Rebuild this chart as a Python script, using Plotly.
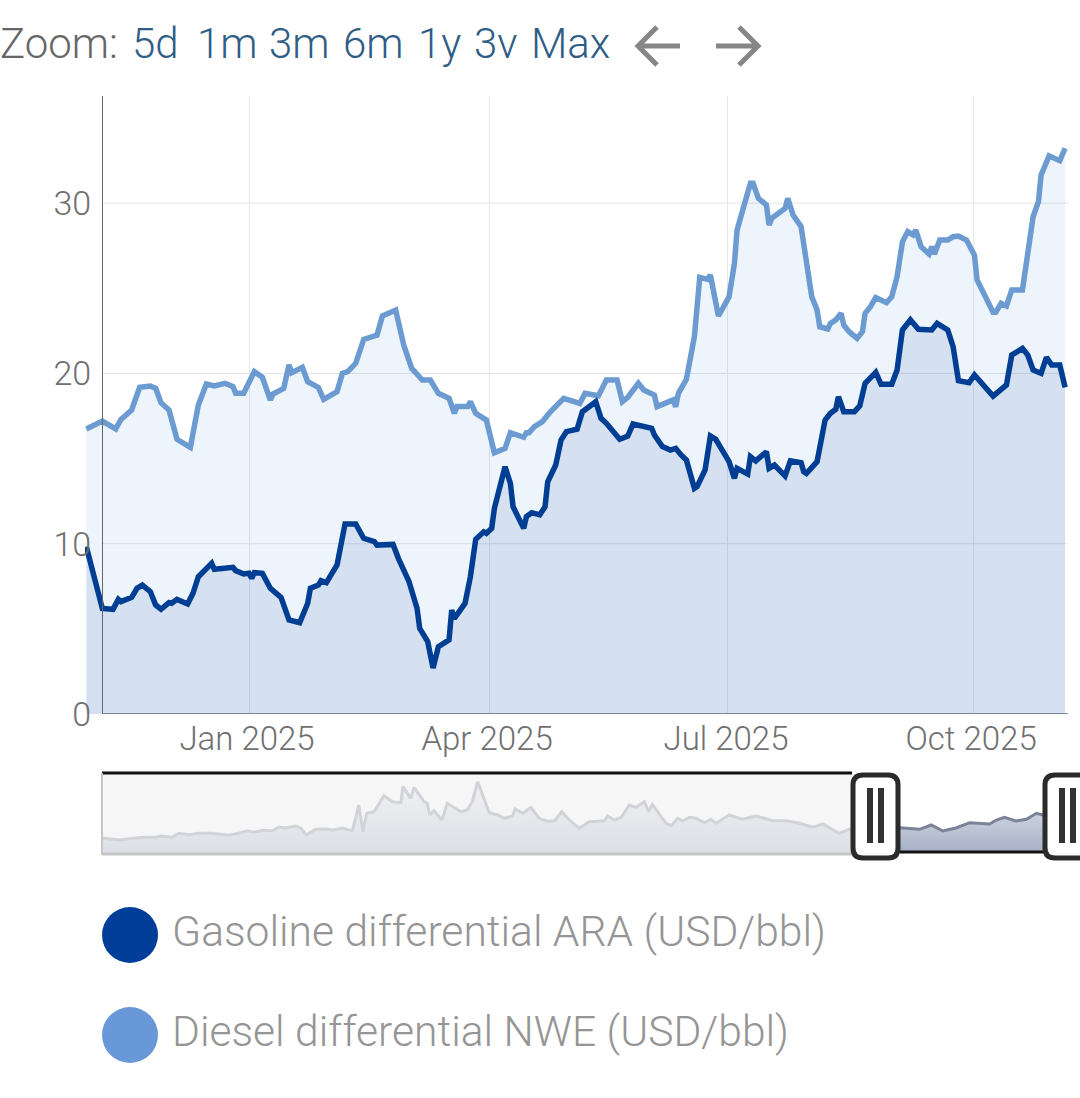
import plotly.graph_objects as go

gasoline_dates = [
    "2024-11-01", "2024-11-07", "2024-11-11", "2024-11-13", "2024-11-14", "2024-11-18",
    "2024-11-20", "2024-11-22", "2024-11-25", "2024-11-27", "2024-11-29", "2024-12-02",
    "2024-12-03", "2024-12-05", "2024-12-09", "2024-12-11", "2024-12-13", "2024-12-18",
    "2024-12-19", "2024-12-26", "2024-12-27", "2024-12-30", "2025-01-01", "2025-01-02",
    "2025-01-03", "2025-01-06", "2025-01-09", "2025-01-13", "2025-01-16", "2025-01-20",
    "2025-01-23", "2025-01-24", "2025-01-27", "2025-01-28", "2025-01-30", "2025-02-03",
    "2025-02-06", "2025-02-10", "2025-02-13", "2025-02-17", "2025-02-18", "2025-02-24",
    "2025-02-26", "2025-02-28", "2025-03-02", "2025-03-05", "2025-03-06", "2025-03-09",
    "2025-03-11", "2025-03-13", "2025-03-17", "2025-03-18", "2025-03-19", "2025-03-23",
    "2025-03-25", "2025-03-27", "2025-03-30", "2025-03-31", "2025-04-02", "2025-04-03",
    "2025-04-07", "2025-04-09", "2025-04-10", "2025-04-14", "2025-04-15", "2025-04-17",
    "2025-04-20", "2025-04-22", "2025-04-23", "2025-04-26", "2025-04-28", "2025-04-30",
    "2025-05-04", "2025-05-06", "2025-05-11", "2025-05-13", "2025-05-15", "2025-05-20",
    "2025-05-23", "2025-05-25", "2025-06-01", "2025-06-02", "2025-06-05", "2025-06-08",
    "2025-06-10", "2025-06-12", "2025-06-14", "2025-06-17", "2025-06-18", "2025-06-21",
    "2025-06-23", "2025-06-25", "2025-06-30", "2025-07-02", "2025-07-03", "2025-07-07",
    "2025-07-08", "2025-07-10", "2025-07-14", "2025-07-15", "2025-07-17", "2025-07-21",
    "2025-07-23", "2025-07-27", "2025-07-28", "2025-07-29", "2025-08-02", "2025-08-05",
    "2025-08-07", "2025-08-09", "2025-08-10", "2025-08-12", "2025-08-16", "2025-08-18",
    "2025-08-20", "2025-08-24", "2025-08-26", "2025-08-30", "2025-09-01", "2025-09-03",
    "2025-09-06", "2025-09-09", "2025-09-14", "2025-09-16", "2025-09-20", "2025-09-22",
    "2025-09-24", "2025-09-28", "2025-09-30", "2025-10-07", "2025-10-12", "2025-10-14",
    "2025-10-18", "2025-10-20", "2025-10-22", "2025-10-25", "2025-10-27", "2025-10-29",
    "2025-11-01", "2025-11-03",
]
gasoline_values = [
    9.83, 6.2, 6.15, 6.73, 6.6, 6.85,
    7.38, 7.57, 7.18, 6.4, 6.15, 6.54,
    6.5, 6.73, 6.46, 7.09, 8.06, 8.85,
    8.5, 8.61, 8.42, 8.22, 8.26, 7.97,
    8.3, 8.26, 7.38, 6.85, 5.52, 5.36,
    6.5, 7.38, 7.57, 7.83, 7.71, 8.75,
    11.16, 11.16, 10.32, 10.12, 9.92, 9.96,
    9.14, 8.42, 7.77, 6.21, 5.03, 4.25,
    2.7, 3.95, 4.35, 6.1, 5.62, 6.5,
    8.06, 10.26, 10.7, 10.61, 10.9, 12.08,
    14.52, 13.55, 12.17, 10.9, 11.59, 11.82,
    11.69, 12.17, 13.64, 14.62, 16.09, 16.58,
    16.72, 17.75, 18.34, 17.36, 17.07, 16.13,
    16.32, 17.03, 16.78, 16.38, 15.7, 15.5,
    15.6, 15.21, 14.91, 13.25, 13.35, 14.33,
    16.32, 16.13, 14.82, 13.84, 14.43, 14.09,
    15.11, 14.86, 15.4, 14.43, 14.62, 13.98,
    14.86, 14.76, 14.23, 14.13, 14.82, 17.26,
    17.66, 17.89, 18.63, 17.75, 17.75, 18.09,
    19.42, 20.06, 19.36, 19.36, 20.2, 22.55,
    23.14, 22.59, 22.55, 22.94, 22.55, 21.57,
    19.57, 19.45, 19.91, 18.67, 19.32, 21.08,
    21.47, 21.08, 20.2, 20.0, 20.94, 20.49,
    20.49, 19.18,
]

diesel_dates = [
    "2024-11-01", "2024-11-07", "2024-11-12", "2024-11-14", "2024-11-18", "2024-11-21",
    "2024-11-25", "2024-11-27", "2024-11-29", "2024-12-02", "2024-12-05", "2024-12-10",
    "2024-12-13", "2024-12-16", "2024-12-19", "2024-12-23", "2024-12-26", "2024-12-27",
    "2024-12-30", "2025-01-03", "2025-01-06", "2025-01-09", "2025-01-10", "2025-01-14",
    "2025-01-16", "2025-01-17", "2025-01-21", "2025-01-23", "2025-01-27", "2025-01-29",
    "2025-02-03", "2025-02-05", "2025-02-07", "2025-02-10", "2025-02-13", "2025-02-18",
    "2025-02-20", "2025-02-25", "2025-02-28", "2025-03-03", "2025-03-07", "2025-03-10",
    "2025-03-13", "2025-03-17", "2025-03-19", "2025-03-20", "2025-03-24", "2025-03-25",
    "2025-03-27", "2025-03-31", "2025-04-03", "2025-04-07", "2025-04-09", "2025-04-14",
    "2025-04-15", "2025-04-16", "2025-04-18", "2025-04-21", "2025-04-24", "2025-04-29",
    "2025-05-05", "2025-05-07", "2025-05-12", "2025-05-15", "2025-05-19", "2025-05-21",
    "2025-05-23", "2025-05-27", "2025-05-29", "2025-06-02", "2025-06-03", "2025-06-09",
    "2025-06-10", "2025-06-11", "2025-06-14", "2025-06-17", "2025-06-19", "2025-06-22",
    "2025-06-23", "2025-06-26", "2025-06-30", "2025-07-02", "2025-07-03", "2025-07-05",
    "2025-07-08", "2025-07-09", "2025-07-11", "2025-07-14", "2025-07-15", "2025-07-16",
    "2025-07-21", "2025-07-22", "2025-07-24", "2025-07-27", "2025-07-29", "2025-07-31",
    "2025-08-02", "2025-08-03", "2025-08-06", "2025-08-07", "2025-08-09", "2025-08-11",
    "2025-08-12", "2025-08-14", "2025-08-17", "2025-08-19", "2025-08-20", "2025-08-22",
    "2025-08-24", "2025-08-28", "2025-08-30", "2025-09-01", "2025-09-03", "2025-09-05",
    "2025-09-07", "2025-09-08", "2025-09-10", "2025-09-13", "2025-09-14", "2025-09-15",
    "2025-09-17", "2025-09-20", "2025-09-22", "2025-09-24", "2025-09-27", "2025-09-30",
    "2025-10-01", "2025-10-04", "2025-10-07", "2025-10-08", "2025-10-10", "2025-10-12",
    "2025-10-14", "2025-10-18", "2025-10-19", "2025-10-22", "2025-10-24", "2025-10-25",
    "2025-10-28", "2025-11-01", "2025-11-03",
]
diesel_values = [
    16.74, 17.2, 16.74, 17.3, 17.85, 19.18,
    19.26, 19.12, 18.28, 17.85, 16.13, 15.66,
    18.14, 19.38, 19.26, 19.42, 19.22, 18.83,
    18.83, 20.1, 19.77, 18.44, 18.79, 19.12,
    20.5, 20.04, 20.36, 19.51, 19.18, 18.48,
    18.93, 20.0, 20.1, 20.59, 22.0, 22.25,
    23.37, 23.72, 21.67, 20.3, 19.61, 19.61,
    18.83, 18.54, 17.66, 18.05, 18.05, 18.34,
    17.66, 17.26, 15.34, 15.6, 16.52, 16.25,
    16.52, 16.52, 16.87, 17.17, 17.75, 18.54,
    18.24, 18.83, 18.69, 19.61, 19.61, 18.34,
    18.6, 19.42, 19.03, 18.73, 18.05, 18.44,
    18.05, 18.83, 19.65, 22.16, 25.64, 25.52,
    25.78, 23.37, 24.5, 26.46, 28.42, 29.5,
    31.16, 31.16, 30.28, 29.89, 28.71, 29.11,
    29.69, 30.28, 29.3, 28.62, 26.46, 24.5,
    23.72, 22.74, 22.61, 22.94, 23.14, 23.53,
    22.84, 22.45, 22.06, 22.45, 23.53, 23.92,
    24.45, 24.15, 24.5, 25.68, 27.73, 28.32,
    28.13, 28.42, 27.44, 27.01, 27.44, 27.01,
    27.83, 27.83, 28.03, 28.07, 27.83, 26.95,
    25.48, 24.6, 23.59, 23.59, 24.11, 23.96,
    24.9, 24.9, 26.07, 29.2, 30.08, 31.65,
    32.77, 32.49, 33.22,
]

nav_dates = [
    "2020-10-22", "2020-11-25", "2020-12-18", "2021-01-09", "2021-01-31", "2021-02-10",
    "2021-03-03", "2021-03-16", "2021-04-04", "2021-04-23", "2021-05-18", "2021-06-19",
    "2021-07-08", "2021-07-24", "2021-08-06", "2021-08-22", "2021-09-10", "2021-09-23",
    "2021-10-05", "2021-10-24", "2021-11-03", "2021-11-13", "2021-12-01", "2021-12-23",
    "2022-01-02", "2022-01-21", "2022-02-09", "2022-02-21", "2022-03-01", "2022-03-08",
    "2022-03-22", "2022-04-10", "2022-04-26", "2022-05-12", "2022-05-16", "2022-05-31",
    "2022-06-06", "2022-06-25", "2022-07-01", "2022-07-06", "2022-07-14", "2022-07-29",
    "2022-08-08", "2022-09-03", "2022-09-15", "2022-09-25", "2022-10-05", "2022-10-27",
    "2022-11-12", "2022-11-24", "2022-12-10", "2022-12-15", "2022-12-30", "2023-01-14",
    "2023-01-30", "2023-02-12", "2023-02-28", "2023-03-14", "2023-03-25", "2023-04-16",
    "2023-05-05", "2023-06-03", "2023-06-09", "2023-06-22", "2023-07-05", "2023-07-20",
    "2023-08-02", "2023-08-18", "2023-08-26", "2023-09-02", "2023-09-28", "2023-10-08",
    "2023-10-20", "2023-10-30", "2023-11-11", "2023-11-24", "2023-12-10", "2023-12-22",
    "2024-01-01", "2024-01-26", "2024-02-20", "2024-03-17", "2024-04-18", "2024-05-13",
    "2024-06-08", "2024-07-03", "2024-07-22", "2024-08-22", "2024-09-10", "2024-10-15",
    "2024-11-15", "2024-12-15", "2025-01-22", "2025-02-13", "2025-03-07", "2025-04-01",
    "2025-04-27", "2025-06-04", "2025-06-17", "2025-07-02", "2025-07-24", "2025-08-13",
    "2025-09-01", "2025-09-13", "2025-11-03",
]
nav_values = [
    14.7, 13, 14.7, 15.7, 15.7, 17,
    15.7, 19.7, 18.3, 19.7, 19.7, 17.7,
    19.7, 22.3, 20.7, 22.7, 22.3, 26,
    25, 27, 24.7, 18, 23.7, 24,
    22.7, 25, 22.3, 48, 21.3, 39.7,
    41.3, 57.3, 51.3, 50.3, 66.3, 54.7,
    65.7, 51.3, 49.7, 38, 42.3, 33,
    49.7, 41.3, 43, 51.3, 71.3, 40.3,
    38, 34.7, 37, 44, 39.7, 45.7,
    34.7, 32, 32, 41.3, 34.7, 24.7,
    31.3, 32.3, 37, 33, 35.7, 48,
    45.7, 51.3, 41.3, 48.7, 29.7, 27.3,
    34.7, 32, 35.7, 34.7, 30.3, 33.7,
    29.7, 38, 33.7, 37, 32.3, 32.3,
    29.7, 25.7, 29, 19.7, 23.7, 24,
    25, 25.3, 23.7, 28, 22, 25,
    30.3, 29, 33, 35.7, 32, 33.7,
    39.7, 38, 42,
]

# source axis is ordinal (weekends collapsed) so Jul/Oct sit a little early on a plain date axis
x_tick_dates = ["2025-01-01", "2025-04-01", "2025-06-29 14:00", "2025-09-29 12:00"]
x_tick_labels = ["Jan 2025", "Apr 2025", "Jul 2025", "Oct 2025"]
y_ticks = [0, 10, 20, 30]
zoom_labels = ["5d", "1m", "3m", "6m", "1y", "3v", "Max"]
series_names = ["Gasoline differential ARA (USD/bbl)", "Diesel differential NWE (USD/bbl)"]

W, H = 1080, 1098
FONT = "Roboto"
GAS = "#003E93"
DIESEL = "#6C9BD2"
TEXT = "#707070"


def px(v):
    return v / W


def py(v):
    return 1 - v / H


def handle_path(x0, x1, y0, y1, r=10):
    return (
        f"M {px(x0 + r)},{py(y0)} L {px(x1 - r)},{py(y0)} Q {px(x1)},{py(y0)} {px(x1)},{py(y0 + r)} "
        f"L {px(x1)},{py(y1 - r)} Q {px(x1)},{py(y1)} {px(x1 - r)},{py(y1)} "
        f"L {px(x0 + r)},{py(y1)} Q {px(x0)},{py(y1)} {px(x0)},{py(y1 - r)} "
        f"L {px(x0)},{py(y0 + r)} Q {px(x0)},{py(y0)} {px(x0 + r)},{py(y0)} Z"
    )


def pline(x0, y0, x1, y1, color, width):
    return dict(type="line", xref="paper", yref="paper",
                x0=px(x0), y0=py(y0), x1=px(x1), y1=py(y1),
                line=dict(color=color, width=width))


fig = go.Figure()

fig.add_trace(go.Scatter(
    x=diesel_dates, y=diesel_values, mode="lines", name=series_names[1],
    line=dict(color=DIESEL, width=5.5), fill="tozeroy", fillcolor="rgba(104,152,216,0.11)",
))
fig.add_trace(go.Scatter(
    x=gasoline_dates, y=gasoline_values, mode="lines", name=series_names[0],
    line=dict(color=GAS, width=5.5), fill="tozeroy", fillcolor="rgba(0,62,147,0.10)",
))
fig.add_trace(go.Scatter(
    x=nav_dates, y=nav_values, mode="lines", xaxis="x2", yaxis="y2",
    line=dict(color="#7B8398", width=3),
    fill="tozeroy",
    fillgradient=dict(type="vertical", colorscale=[[0, "#A6B0C6"], [1, "#F2F3F6"]], start=0, stop=80),
))

shapes = []

# horizontal grid starts at the axis line, not at the first data point
for t in y_ticks[1:]:
    shapes.append(dict(type="line", xref="paper", yref="y", x0=px(102), x1=px(1068), y0=t, y1=t,
                       layer="below", line=dict(color="#E4E4E4", width=1)))
shapes.append(dict(type="line", xref="paper", yref="y", x0=px(102), x1=px(1068), y0=0, y1=0,
                   line=dict(color="#5F6B78", width=1.5)))

# navigator: grey out the unselected part, then borders and handles
shapes.append(dict(type="rect", xref="paper", yref="paper", x0=px(102), x1=px(852), y0=py(773), y1=py(854),
                   fillcolor="rgba(243,243,243,0.72)", line=dict(width=0)))
shapes.append(pline(102, 773, 852, 773, "#111111", 3))
shapes.append(pline(102, 854, 852, 854, "#C6C6C6", 3))
shapes.append(pline(102, 773, 102, 855, "#C6C6C6", 2))
shapes.append(pline(900, 852, 1044, 852, "#111111", 3))
for x0, x1, bars in [(853, 898, (870, 881)), (1045, 1092, (1062, 1073))]:
    shapes.append(dict(type="path", xref="paper", yref="paper", path=handle_path(x0, x1, 775, 858),
                       fillcolor="white", line=dict(color="#2B2B2B", width=5)))
    for b in bars:
        shapes.append(pline(b, 788, b, 843, "#333333", 6))

# back / forward arrows
for tip, tail, sign in [(638, 680, 1), (758, 716, -1)]:
    path = (f"M {px(tail)},{py(46)} L {px(tip)},{py(46)} "
            f"M {px(tip + sign * 19)},{py(27)} L {px(tip)},{py(46)} L {px(tip + sign * 19)},{py(65)}")
    shapes.append(dict(type="path", xref="paper", yref="paper", path=path, line=dict(color="#868686", width=5)))

# legend dots
legend_rows = [935, 1035]
for row, color in zip(legend_rows, ["#003E99", "#6898D8"]):
    shapes.append(dict(type="circle", xref="paper", yref="paper",
                       x0=px(102), x1=px(158), y0=py(row - 28), y1=py(row + 28),
                       fillcolor=color, line=dict(width=0)))

annotations = [dict(text="Zoom:", x=px(-2), y=py(43), xref="paper", yref="paper", xanchor="left", yanchor="middle",
                    showarrow=False, font=dict(family=FONT, size=42, weight=300, color="#666666"))]
for label, left in zip(zoom_labels, [130, 195, 267, 341, 416, 472, 529]):
    annotations.append(dict(text=label, x=px(left), y=py(43), xref="paper", yref="paper",
                            xanchor="left", yanchor="middle", showarrow=False,
                            font=dict(family=FONT, size=42, weight=300, color="#2F5D85")))
for name, row in zip(series_names, [931, 1031]):
    annotations.append(dict(text=name, x=px(170), y=py(row), xref="paper", yref="paper",
                            xanchor="left", yanchor="middle", showarrow=False,
                            font=dict(family=FONT, size=42.6, weight=300, color="#959595")))

fig.update_layout(
    width=W, height=H,
    margin=dict(l=0, r=0, t=0, b=0),
    paper_bgcolor="white", plot_bgcolor="white",
    showlegend=False,
    font=dict(family=FONT, size=33, weight=300, color=TEXT),
    shapes=shapes,
    annotations=annotations,
    xaxis=dict(
        domain=[px(85), px(1068)],
        range=["2024-10-31 12:00", "2025-11-04 02:00"],
        tickvals=x_tick_dates, ticktext=x_tick_labels,
        showgrid=True, gridcolor="#E4E7EC", gridwidth=1,
        showline=False, zeroline=False, automargin=False,
        ticks="", ticklabelstandoff=2, ticklabelshift=-2,
        tickfont=dict(family=FONT, size=33, weight=300, color=TEXT),
    ),
    yaxis=dict(
        domain=[py(714), py(96)],
        range=[0, 36.29],
        anchor="free", position=px(102),
        tickvals=y_ticks, automargin=False,
        showgrid=False, zeroline=False,
        showline=True, linecolor="#666666", linewidth=1,
        ticks="outside", ticklen=4, tickcolor="rgba(0,0,0,0)",
        tickfont=dict(family=FONT, size=34, weight=300, color=TEXT),
    ),
    xaxis2=dict(domain=[px(102), px(1068)], range=["2020-10-21", "2025-10-31"], anchor="y2",
                visible=False, automargin=False),
    yaxis2=dict(domain=[py(853), py(773)], range=[0, 80], anchor="x2", visible=False, automargin=False),
)

fig.write_html("out.html", config={"displayModeBar": False},
               post_script="document.body.style.margin='0';")
